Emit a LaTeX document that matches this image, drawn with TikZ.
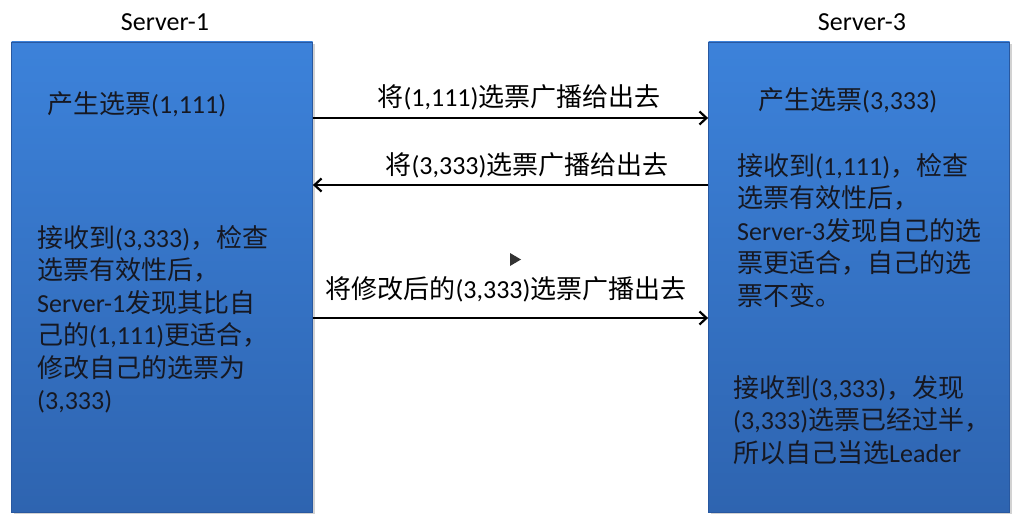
\documentclass[tikz,border=0pt]{standalone}
\usepackage{fontspec}
\setmainfont{Carlito}
\newfontfamily\cjk{Noto Sans CJK SC}
\usetikzlibrary{arrows.meta,shadows}
\newcommand{\zh}[1]{{\cjk #1}}
\definecolor{boxtop}{RGB}{60,130,218}
\definecolor{boxbot}{RGB}{46,100,176}
\definecolor{boxedge}{RGB}{40,88,160}
\definecolor{txt}{RGB}{22,24,34}
\begin{document}
\begin{tikzpicture}[x=1pt,y=-1pt,
  server/.style={rectangle, draw=boxedge, line width=0.8pt, top color=boxtop, bottom color=boxbot,
    minimum width=301pt, minimum height=470pt, inner sep=0pt,
    drop shadow={opacity=0.35, shadow xshift=2pt, shadow yshift=-2pt}},
  title/.style={font=\fontsize{26}{30}\selectfont, text=black, inner sep=0pt},
  body/.style={font=\fontsize{26}{32.5}\selectfont, text=txt, align=left, inner sep=0pt, anchor=north west},
  lbl/.style={font=\fontsize{26}{30}\selectfont, text=black, inner sep=0pt},
  arr/.style={line width=2.2pt, -{Straight Barb[length=7pt,width=13pt,line width=2.2pt]}}
]
\useasboundingbox (0,0) rectangle (1023,524);
\fill[white] (0,0) rectangle (1023,524);

\node[server] (s1) at (162,277) {};
\node[server] (s3) at (859,277) {};

\node[title] (t1) at (165,22) {Server-1};
\node[title] (t3) at (862,22) {Server-3};

\node[body, anchor=west] (b1a) at (47,104) {\zh{产生选票}(1,111)};
\node[body, anchor=west] (b3a) at (758,100) {\zh{产生选票}(3,333)};

\node[body] (b1b) at (37,225) {\zh{接收到}(3,333)\zh{，检查}\\
\zh{选票有效性后，}\\
Server-1\zh{发现其比自}\\
\zh{己的}(1,111)\zh{更适合，}\\
\zh{修改自己的选票为}\\
(3,333)};

\node[body] (b3b) at (737,153) {\zh{接收到}(1,111)\zh{，检查}\\
\zh{选票有效性后，}\\
Server-3\zh{发现自己的选}\\
\zh{票更适合，自己的选}\\
\zh{票不变。}};

\node[body] (b3c) at (733,375) {\zh{接收到}(3,333)\zh{，发现}\\
(3,333)\zh{选票已经过半，}\\
\zh{所以自己当选}Leader};

\coordinate (y1) at (0,118);
\coordinate (y2) at (0,185);
\coordinate (y3) at (0,318);
\draw[arr] (s1.east |- y1) -- (s3.west |- y1);
\draw[arr] (s3.west |- y2) -- (s1.east |- y2);
\draw[arr] (s1.east |- y3) -- (s3.west |- y3);

\node[lbl] (l1) at (519,97) {\zh{将}(1,111)\zh{选票广播给出去}};
\node[lbl] (l2) at (527,165) {\zh{将}(3,333)\zh{选票广播给出去}};
\node[lbl] (l3) at (506,289) {\zh{将修改后的}(3,333)\zh{选票广播出去}};

\fill[black!80] (510,253) -- (521,259.5) -- (510,266) -- cycle;
\end{tikzpicture}
\end{document}
